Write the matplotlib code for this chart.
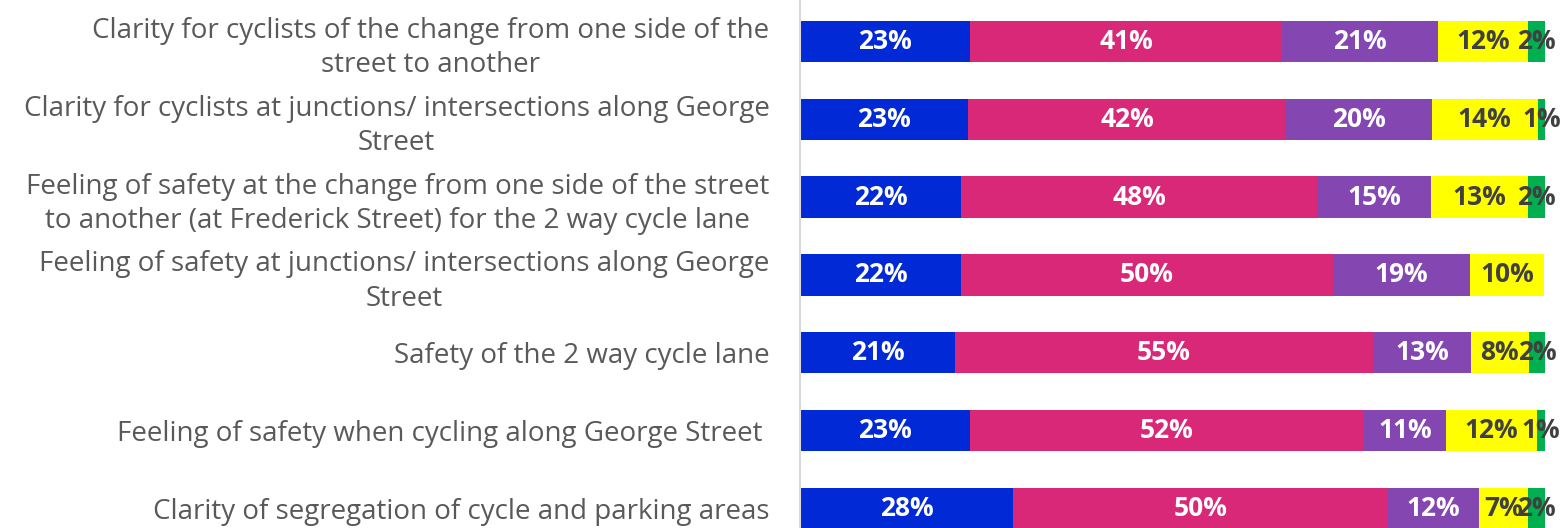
import matplotlib.pyplot as plt
import numpy as np

plt.rcParams['font.family'] = ['Open Sans', 'DejaVu Sans']

categories = [
    'Clarity for cyclists of the change from one side of the\nstreet to another',
    'Clarity for cyclists at junctions/ intersections along George\nStreet',
    'Feeling of safety at the change from one side of the street\nto another (at Frederick Street) for the 2 way cycle lane',
    'Feeling of safety at junctions/ intersections along George\nStreet',
    'Safety of the 2 way cycle lane',
    'Feeling of safety when cycling along George Street ',
    'Clarity of segregation of cycle and parking areas',
]

# bar widths (share of responses, %)
blue = [22.8, 22.6, 21.6, 21.6, 20.8, 22.8, 28.6]
pink = [41.9, 42.6, 47.8, 49.9, 56.1, 52.9, 50.3]
purple = [20.9, 19.6, 15.3, 18.5, 13.2, 11.0, 12.2]
yellow = [12.1, 14.2, 13.0, 9.9, 7.7, 12.2, 6.6]
green = [2.3, 1.1, 2.3, 0.0, 2.3, 1.1, 2.3]

# labels as printed on the chart
blue_lbl = [23, 23, 22, 22, 21, 23, 28]
pink_lbl = [41, 42, 48, 50, 55, 52, 50]
purple_lbl = [21, 20, 15, 19, 13, 11, 12]
yellow_lbl = [12, 14, 13, 10, 8, 12, 7]
green_lbl = [2, 1, 2, None, 2, 1, 2]

series = [
    (blue, blue_lbl, '#0229D6', 'white'),
    (pink, pink_lbl, '#D92877', 'white'),
    (purple, purple_lbl, '#8446B1', 'white'),
    (yellow, yellow_lbl, '#FFFF00', '#404040'),
    (green, green_lbl, '#00B050', '#404040'),
]

fig = plt.figure(figsize=(15.67, 5.28), dpi=100)
ax = fig.add_axes([800 / 1567, 0, 745 / 1567, 1])

y = np.arange(len(categories))
left = np.zeros(len(categories))
for vals, lbls, col, tcol in series:
    vals = np.array(vals)
    ax.barh(y, vals, left=left, height=0.526, color=col, edgecolor='none')
    for i in range(len(y)):
        if lbls[i] is None:
            continue
        ax.text(left[i] + vals[i] / 2, y[i], f'{lbls[i]}%', ha='center', va='center',
                color=tcol, fontsize=19, fontweight='bold')
    left += vals

ax.set_xlim(0, 100)
ax.set_ylim(6.244, -0.526)
ax.set_yticks(y)
ax.set_yticklabels(categories, multialignment='center', fontsize=20,
                   color='#595959', linespacing=1.3)
ax.tick_params(axis='y', length=0, pad=22)
ax.set_xticks([])
for s in ['top', 'right', 'bottom']:
    ax.spines[s].set_visible(False)
ax.spines['left'].set_color('#D9D9D9')
ax.spines['left'].set_linewidth(1.5)

fig.savefig('out.png', dpi=100)
